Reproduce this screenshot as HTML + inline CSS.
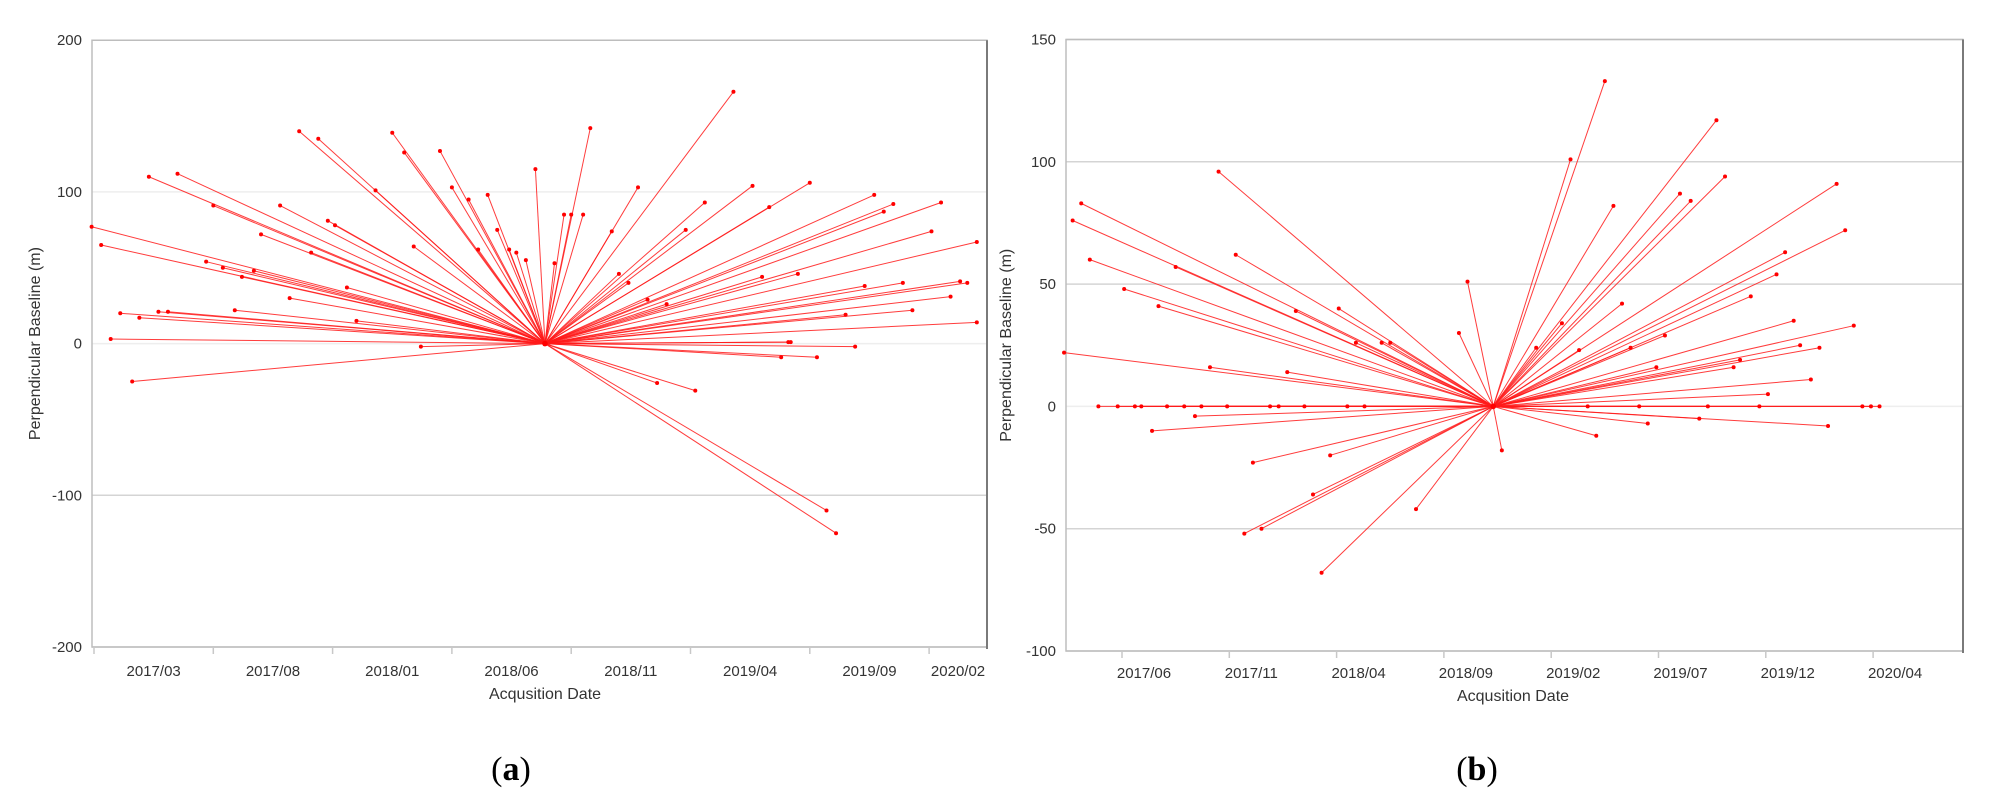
<!DOCTYPE html>
<html><head><meta charset="utf-8"><style>
html,body{margin:0;padding:0;background:#fff;}
svg{display:block;}
text{font-family:"Liberation Sans",sans-serif;fill:#333;}
</style></head><body>
<svg id="fig" width="2009" height="806" viewBox="0 0 2009 806" xmlns="http://www.w3.org/2000/svg">
<g id="panelA"></g>
<g id="panelB"></g>
<text x="511" y="780" text-anchor="middle" style="font-family:'Liberation Serif',serif;font-size:34px;fill:#000">(<tspan font-weight="bold">a</tspan>)</text>
<text x="1477" y="780" text-anchor="middle" style="font-family:'Liberation Serif',serif;font-size:34px;fill:#000">(<tspan font-weight="bold">b</tspan>)</text>
</svg>
<script>
// months since 2017/01 (0 = Jan 2017)
const aMasterDate = 20.9;
const aMasterBaseline = 0;
const aDates = [1.9,2.3,3.1,3.9,4.7,5.1,2.7,3.6,4.3,5.5,7.0,6.7,7.4,8.7,8.2,9.0,9.8,10.6,11.4,11.1,11.8,12.1,10.2,7.9,12.6,13.0,13.8,14.5,15.0,16.5,15.4,15.7,17.0,17.7,18.5,18.1,18.9,19.4,19.7,20.1,20.5,21.3,21.7,22.0,22.5,22.8,24.8,28.8,23.7,24.0,24.4,27.6,26.8,29.6,30.3,25.6,27.2,25.2,26.0,30.8,31.1,32.0,34.7,35.5,35.1,37.5,37.1,39.0,30.0,31.5,34.3,35.9,38.3,38.6,37.9,36.3,33.5,39.0,31.2,33.9,32.3,32.7,33.1];
const aBaselines = [77,65,20,17,21,21,3,-25,110,112,91,54,50,48,44,72,91,140,135,60,81,78,30,22,37,15,101,139,126,127,64,-2,103,95,98,62,75,62,60,55,115,53,85,85,85,142,103,166,74,46,40,93,75,104,90,-26,-31,29,26,-9,1,106,98,92,87,93,74,67,44,46,38,40,41,40,31,22,19,14,1,-2,-9,-110,-125];
const aTickLabels = ["2017/03","2017/08","2018/01","2018/06","2018/11","2019/04","2019/09","2020/02"];
const aTickMonths = [2,7,12,17,22,27,32,37];
const aYTicks = [200,100,0,-100,-200];

const bMasterDate = 22.3;
const bMasterBaseline = 0;
const bDates = [9.5,3.1,2.7,3.5,10.3,7.5,5.1,6.7,15.1,13.1,15.9,17.1,17.5,2.3,9.1,12.7,21.1,20.7,8.4,6.4,11.1,14.7,13.9,10.7,11.5,18.7,22.7,14.3,3.9,4.8,5.6,5.9,7.1,7.9,8.7,9.9,11.9,12.3,13.5,15.5,16.3,27.5,25.9,32.7,27.9,31.0,31.5,33.1,38.3,38.7,35.9,35.5,34.3,28.3,25.5,36.3,39.1,36.6,37.5,33.8,33.5,29.9,30.3,26.3,28.7,24.3,37.1,35.1,26.7,29.1,32.3,34.7,39.5,39.9,40.3,31.9,29.5,37.9,27.1];
const bBaselines = [96,83,76,60,62,57,48,41,40,39,26,26,26,22,16,14,51,30,-4,-10,-23,-20,-36,-52,-50,-42,-18,-68,0,0,0,0,0,0,0,0,0,0,0,0,0,133,101,117,82,87,84,94,91,72,63,54,45,42,34,35,33,25,24,19,16,16,29,23,24,24,11,5,0,0,0,0,0,0,0,-5,-7,-8,-12];
const bTickLabels = ["2017/06","2017/11","2018/04","2018/09","2019/02","2019/07","2019/12","2020/04"];
const bTickMonths = [5,10,15,20,25,30,35,40];
const bYTicks = [150,100,50,0,-50,-100];

const NS = "http://www.w3.org/2000/svg";
function mk(tag, attrs, parent){
  const e = document.createElementNS(NS, tag);
  for (const k in attrs) e.setAttribute(k, attrs[k]);
  parent.appendChild(e);
  return e;
}

function drawPanel(g, cfg, dates, baselines, masterDate, masterBase, tickLabels, tickMonths, yTicks, prefix){
  const xs = t => cfg.x0 + (t - cfg.t0) * cfg.pxPerMonth;
  const ys = v => cfg.yZero - v * cfg.pxPerUnit;
  const L = cfg.left, R = cfg.right, T = ys(yTicks[0]), B = ys(yTicks[yTicks.length-1]);
  yTicks.forEach(v => {
    const gl = mk("line", {x1:L, x2:R, y1:ys(v), y2:ys(v), stroke:(v===0||Math.abs(v)===100&&prefix==='a'&&v>0)?"#eeeeee":"#d4d4d4", "stroke-width":1.5}, g);
    
    
    const tl = mk("text", {x:L-10, y:ys(v)+5, "text-anchor":"end", "font-size":"15"}, g);
    tl.textContent = v;
    
    
  });
  const fr = mk("path", {d:`M${L},${T} H${R} V${B} H${L} Z`, fill:"none", stroke:"#bdbdbd", "stroke-width":1.5}, g);
  
  
  const rb = mk("line", {x1:R, x2:R, y1:T, y2:B+2, stroke:"#7a7a7a", "stroke-width":2}, g);
  
  
  tickMonths.forEach((t, i) => {
    const tx = xs(t);
    const tk = mk("line", {x1:tx, x2:tx, y1:B, y2:B+7, stroke:"#c8c8c8", "stroke-width":1.5}, g);
    
    
    let lx;
    if (cfg.centerLabels) {
      const nx = Math.min(xs(t + 5), R);
      lx = (tx + nx) / 2;
    } else {
      lx = tx + cfg.labelOffset;
    }
    const lb = mk("text", {x:lx, y:cfg.labelY, "text-anchor":"middle", "font-size":"15"}, g);
    lb.textContent = tickLabels[i];
    
    
  });
  const xt = mk("text", {x:cfg.xTitleX, y:cfg.xTitleY, "text-anchor":"middle", "font-size":"16"}, g);
  xt.textContent = "Acqusition Date";
  
  
  const yt = mk("text", {x:0, y:0, "text-anchor":"middle", "font-size":"16", transform:`translate(${cfg.yTitleX},${(T+B)/2}) rotate(-90)`}, g);
  yt.textContent = "Perpendicular Baseline (m)";
  
  
  const mx = xs(masterDate), my = ys(masterBase);
  dates.forEach((d, i) => {
    const ex = xs(d), ey = ys(baselines[i]);
    const ln = mk("line", {x1:mx, y1:my, x2:ex, y2:ey, stroke:"#ff1a1a", "stroke-width":1, "stroke-opacity":0.85}, g);
    
    
  });
  dates.forEach((d, i) => {
    const pt = mk("circle", {cx:xs(d), cy:ys(baselines[i]), r:2, fill:"#ff0000"}, g);
    
    
  });
  const mp = mk("circle", {cx:mx, cy:my, r:2.8, fill:"#ff0000"}, g);
  
  
}

drawPanel(document.getElementById("panelA"),
  {left:92, right:987, x0:94, t0:2, pxPerMonth:23.86, yZero:343.6, pxPerUnit:1.517, centerLabels:true, labelY:676, xTitleX:545, xTitleY:699, yTitleX:40},
  aDates, aBaselines, aMasterDate, aMasterBaseline, aTickLabels, aTickMonths, aYTicks, 'a');

drawPanel(document.getElementById("panelB"),
  {left:1066, right:1963, x0:1122, t0:5, pxPerMonth:21.46, yZero:406.4, pxPerUnit:2.446, centerLabels:false, labelOffset:22, labelY:678, xTitleX:1513, xTitleY:701, yTitleX:1011},
  bDates, bBaselines, bMasterDate, bMasterBaseline, bTickLabels, bTickMonths, bYTicks, 'b');
</script>
</body></html>
